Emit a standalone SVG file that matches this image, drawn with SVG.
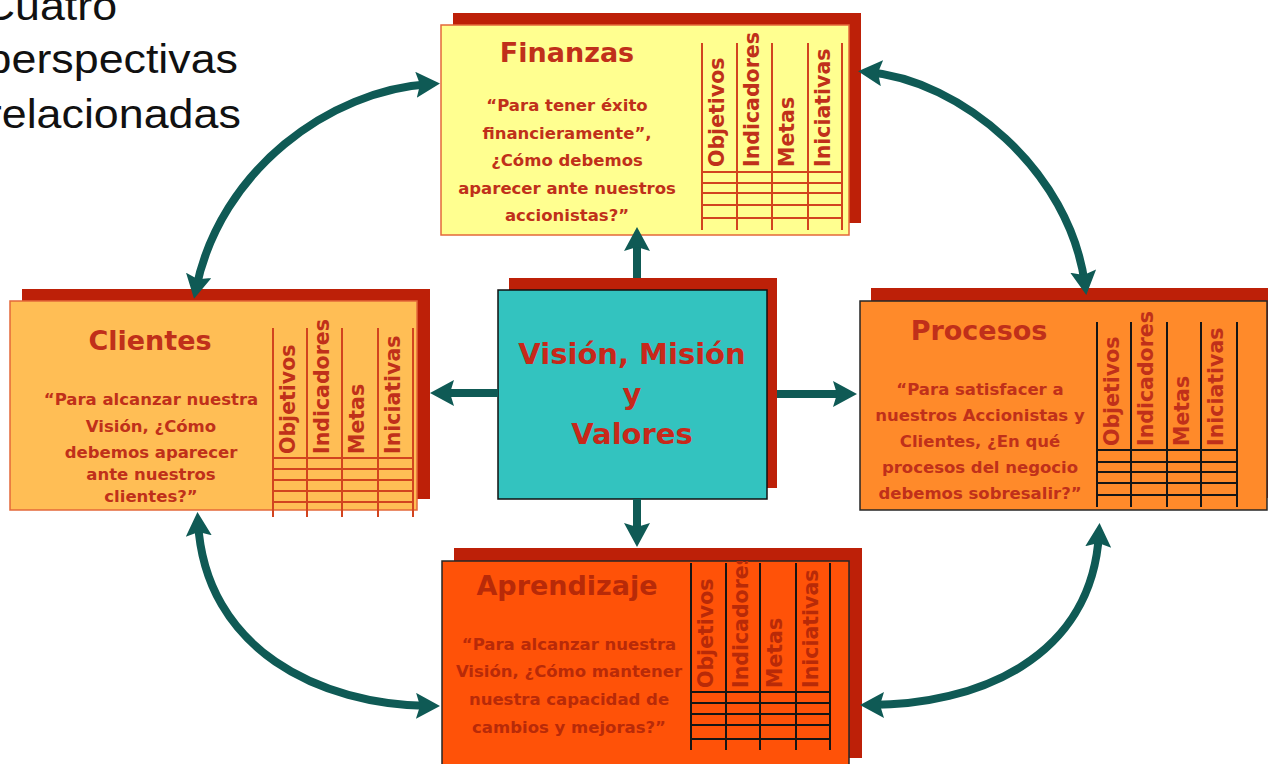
<svg xmlns="http://www.w3.org/2000/svg" width="1268" height="764" viewBox="0 0 1268 764">
  <style>
    .shadow { fill: #BD2008; }
    .box-lt { stroke: #E4683A; stroke-width: 1.5; }
    .box-dk { stroke: #262626; stroke-width: 1.5; }
    .title { font-family: "DejaVu Sans", Verdana, sans-serif; font-weight: bold; font-size: 27px; fill: #C0301A; text-anchor: middle; }
    .q { font-family: "DejaVu Sans", Verdana, sans-serif; font-weight: bold; font-size: 16.5px; fill: #C0301A; text-anchor: middle; }
    .col { font-family: "DejaVu Sans", Verdana, sans-serif; font-weight: bold; font-size: 20.5px; fill: #C0301A; }
    .grid-r { stroke: #D2441F; stroke-width: 2; fill: none; }
    .grid-k { stroke: #151515; stroke-width: 2; fill: none; }
    .dim { fill: #B82A08; }
    .center { font-family: "DejaVu Sans", Verdana, sans-serif; font-weight: bold; font-size: 29px; fill: #C8281A; text-anchor: middle; }
    .side { font-family: "Liberation Sans", Arial, sans-serif; font-size: 40px; fill: #111; text-anchor: end; }
    .link { stroke: #0F5A55; stroke-width: 8; fill: none; marker-end: url(#head); }
    .link2 { stroke: #0F5A55; stroke-width: 8; fill: none; marker-start: url(#head); marker-end: url(#head); }
  </style>
  <defs>
    <marker id="head" markerUnits="userSpaceOnUse" viewBox="0 -13 24 26" markerWidth="24" markerHeight="26" refX="14" refY="0" orient="auto-start-reverse">
      <path d="M0,-13 L24,0 L0,13 L4,0 Z" fill="#0F5A55"/>
    </marker>
    <clipPath id="clip-apr">
      <rect x="442" y="561" width="408" height="210"/>
    </clipPath>
  </defs>

  <rect width="1268" height="764" fill="#FFFFFF"/>

  <!-- heading at the upper left -->
  <g id="heading" transform="scale(1.12,1)">
    <text class="side" x="104.5" y="20">Cuatro</text>
    <text class="side" x="212.5" y="73">perspectivas</text>
    <text class="side" x="215" y="128">relacionadas</text>
  </g>

  <!-- Finanzas -->
  <g id="finanzas">
    <rect class="shadow" x="453" y="13" width="408" height="210"/>
    <rect class="box-lt" x="441" y="25" width="408" height="210" fill="#FFFF90"/>
    <text class="title" x="567" y="62">Finanzas</text>
    <text class="q" x="567" y="111">“Para tener éxito</text>
    <text class="q" x="567" y="138.5">financieramente”,</text>
    <text class="q" x="567" y="166">¿Cómo debemos</text>
    <text class="q" x="567" y="193.5">aparecer ante nuestros</text>
    <text class="q" x="567" y="221">accionistas?”</text>
    <path class="grid-r" d="M702 43V230M737 43V230M772 43V230M808 43V230M842 43V230M702 172H842M702 183H842M702 193H842M702 205H842M702 218H842"/>
    <text class="col" transform="translate(723.5,167) rotate(-90)">Objetivos</text>
    <text class="col" transform="translate(758.5,167) rotate(-90)">Indicadores</text>
    <text class="col" transform="translate(793.5,167) rotate(-90)">Metas</text>
    <text class="col" transform="translate(829.5,167) rotate(-90)">Iniciativas</text>
  </g>

  <!-- Clientes -->
  <g id="clientes">
    <rect class="shadow" x="22" y="289" width="408" height="210"/>
    <rect class="box-lt" x="10" y="301" width="407" height="209" fill="#FFBE55"/>
    <text class="title" x="150" y="350">Clientes</text>
    <text class="q" x="151" y="405">“Para alcanzar nuestra</text>
    <text class="q" x="151" y="432">Visión, ¿Cómo</text>
    <text class="q" x="151" y="458">debemos aparecer</text>
    <text class="q" x="151" y="480">ante nuestros</text>
    <text class="q" x="151" y="502">clientes?”</text>
    <path class="grid-r" d="M273 328V517M307 328V517M342 328V517M378 328V517M413 328V517M273 458H413M273 469H413M273 480H413M273 491H413M273 502H413"/>
    <text class="col" transform="translate(294.5,454) rotate(-90)">Objetivos</text>
    <text class="col" transform="translate(328.5,454) rotate(-90)">Indicadores</text>
    <text class="col" transform="translate(363.5,454) rotate(-90)">Metas</text>
    <text class="col" transform="translate(399.5,454) rotate(-90)">Iniciativas</text>
  </g>

  <!-- Procesos -->
  <g id="procesos">
    <rect class="shadow" x="871" y="288" width="408" height="210"/>
    <rect class="box-dk" x="860" y="301" width="407" height="209" fill="#FF8A2A"/>
    <text class="title" x="979" y="340">Procesos</text>
    <text class="q" x="980" y="395">“Para satisfacer a</text>
    <text class="q" x="980" y="421">nuestros Accionistas y</text>
    <text class="q" x="980" y="447">Clientes, ¿En qué</text>
    <text class="q" x="980" y="473">procesos del negocio</text>
    <text class="q" x="980" y="499">debemos sobresalir?”</text>
    <path class="grid-k" d="M1097 322V507M1131 322V507M1167 322V507M1201 322V507M1237 322V507M1097 450H1237M1097 462H1237M1097 472H1237M1097 483H1237M1097 495H1237"/>
    <text class="col" transform="translate(1118.5,446) rotate(-90)">Objetivos</text>
    <text class="col" transform="translate(1152.5,446) rotate(-90)">Indicadores</text>
    <text class="col" transform="translate(1188.5,446) rotate(-90)">Metas</text>
    <text class="col" transform="translate(1222.5,446) rotate(-90)">Iniciativas</text>
  </g>

  <!-- Aprendizaje -->
  <g id="aprendizaje">
    <rect class="shadow" x="454" y="548" width="408" height="210"/>
    <rect class="box-dk" x="442" y="561" width="407" height="210" fill="#FF5208"/>
    <text class="title dim" x="567" y="595">Aprendizaje</text>
    <text class="q dim" x="569" y="650">“Para alcanzar nuestra</text>
    <text class="q dim" x="569" y="677">Visión, ¿Cómo mantener</text>
    <text class="q dim" x="569" y="705">nuestra capacidad de</text>
    <text class="q dim" x="569" y="733">cambios y mejoras?”</text>
    <path class="grid-k" d="M691 563V750M726 563V750M760 563V750M796 563V750M830 563V750M691 692H830M691 703H830M691 714H830M691 725H830M691 739H830"/>
    <g clip-path="url(#clip-apr)">
      <text class="col dim" transform="translate(712.5,688) rotate(-90)">Objetivos</text>
      <text class="col dim" transform="translate(747.5,688) rotate(-90)">Indicadores</text>
      <text class="col dim" transform="translate(781.5,688) rotate(-90)">Metas</text>
      <text class="col dim" transform="translate(817.5,688) rotate(-90)">Iniciativas</text>
    </g>
  </g>

  <!-- Visión, Misión y Valores -->
  <g id="vision">
    <rect class="shadow" x="509" y="278" width="268" height="210"/>
    <rect x="498" y="290" width="269" height="209" fill="#33C3BF" stroke="#111" stroke-width="1.5"/>
    <text class="center" x="632" y="364">Visión, Misión</text>
    <text class="center" x="632" y="404">y</text>
    <text class="center" x="632" y="444">Valores</text>
  </g>

  <!-- connectors -->
  <g id="connectors">
    <path class="link" d="M637 278 L637 237"/>
    <path class="link" d="M498 393 L440 393"/>
    <path class="link" d="M777 394 L847 394"/>
    <path class="link" d="M637 499 L637 537"/>
    <path class="link2" d="M430 84 C330 90 220 170 196 289"/>
    <path class="link2" d="M868 72 C960 80 1070 170 1085 285"/>
    <path class="link2" d="M198 522 C205 650 320 705 430 706"/>
    <path class="link2" d="M1099 533 C1092 660 975 705 870 705"/>
  </g>
</svg>
